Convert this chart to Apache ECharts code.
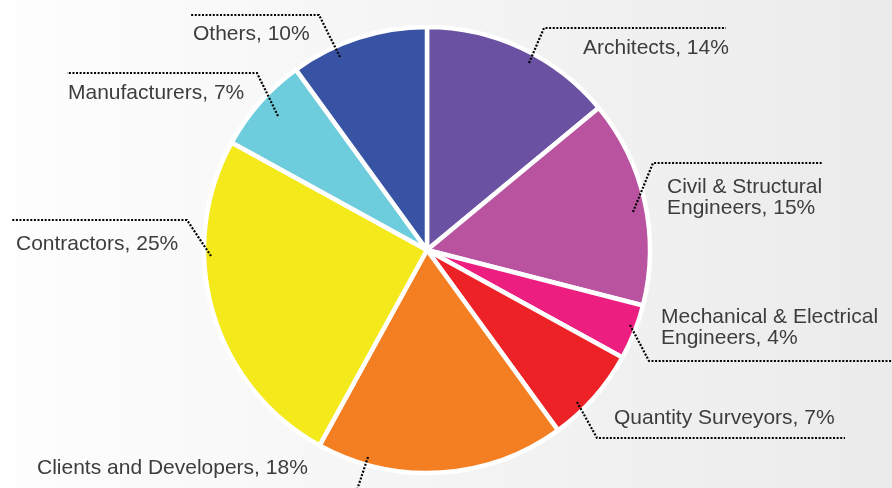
<!DOCTYPE html>
<html>
<head>
<meta charset="utf-8">
<script src="https://cdn.jsdelivr.net/npm/echarts@6/dist/echarts.min.js"></script>
<style>
  html, body { margin: 0; padding: 0; }
  #chart { width: 892px; height: 488px; }
</style>
</head>
<body>
<div id="chart"></div>
<script>
// Share of members by profession (percent), clockwise from the top
const categories = [
  'Architects',
  'Civil & Structural\nEngineers',
  'Mechanical & Electrical\nEngineers',
  'Quantity Surveyors',
  'Clients and Developers',
  'Contractors',
  'Manufacturers',
  'Others'
];
const shares = [14, 15, 4, 7, 18, 25, 7, 10];
const sliceColors = ['#6a51a2', '#b9539f', '#ec1f81', '#ec2227', '#f47f22', '#f4e91a', '#6ecddc', '#3953a4'];

// Callout placement: text anchor and dotted leader path (start, elbow, end)
const callouts = [
  { x: 583, y: 48,  v: 'middle', line: [[529, 63], [544, 28], [726, 28]] },
  { x: 667, y: 177, v: 'top',    line: [[633, 212], [653, 163], [822, 163]] },
  { x: 661, y: 307, v: 'top',    line: [[630, 325], [649, 361], [895, 361]] },
  { x: 614, y: 418, v: 'middle', line: [[577, 402], [597, 438], [845, 438]] },
  { x: 37,  y: 468, v: 'middle', line: [[368, 457], [352, 505], [100, 505]] },
  { x: 16,  y: 244, v: 'middle', line: [[211, 256], [187, 220], [12, 220]] },
  { x: 68,  y: 93,  v: 'middle', line: [[278, 116], [257, 73], [67, 73]] },
  { x: 193, y: 34,  v: 'middle', line: [[340, 57], [319, 15], [190, 15]] }
];

const chart = echarts.init(document.getElementById('chart'), null, { renderer: 'canvas' });

// Dotted leader lines, drawn on top of the slices
const leaders = callouts.map(c => ({
  type: 'polyline',
  z: 100,
  silent: true,
  shape: { points: c.line },
  style: {
    fill: null,
    stroke: '#000000',
    lineWidth: 2.2,
    lineDash: [2, 1.6],
    lineCap: 'butt'
  }
}));

chart.setOption({
  animation: false,
  backgroundColor: {
    type: 'linear', x: 0, y: 0, x2: 1, y2: 0,
    colorStops: [
      { offset: 0, color: '#ffffff' },
      { offset: 0.04, color: '#fdfdfd' },
      { offset: 0.5, color: '#f4f4f4' },
      { offset: 1, color: '#ebebeb' }
    ]
  },
  graphic: { elements: leaders },
  series: [{
    type: 'pie',
    center: [427, 250],
    radius: [0, 223],
    startAngle: 90,
    clockwise: true,
    avoidLabelOverlap: false,
    itemStyle: { borderColor: '#ffffff', borderWidth: 4.5 },
    emphasis: { disabled: true },
    label: {
      show: true,
      position: 'outside',
      formatter: p => p.name + ', ' + p.value + '%',
      fontFamily: 'Liberation Sans, Arial, Helvetica, sans-serif',
      fontSize: 21,
      lineHeight: 21,
      color: '#3d3d3d'
    },
    labelLine: { show: false },
    labelLayout: params => {
      const c = callouts[params.dataIndex];
      return { x: c.x, y: c.y, align: 'left', verticalAlign: c.v };
    },
    data: categories.map((name, i) => ({
      name: name,
      value: shares[i],
      itemStyle: { color: sliceColors[i] }
    }))
  }]
});
</script>
</body>
</html>
